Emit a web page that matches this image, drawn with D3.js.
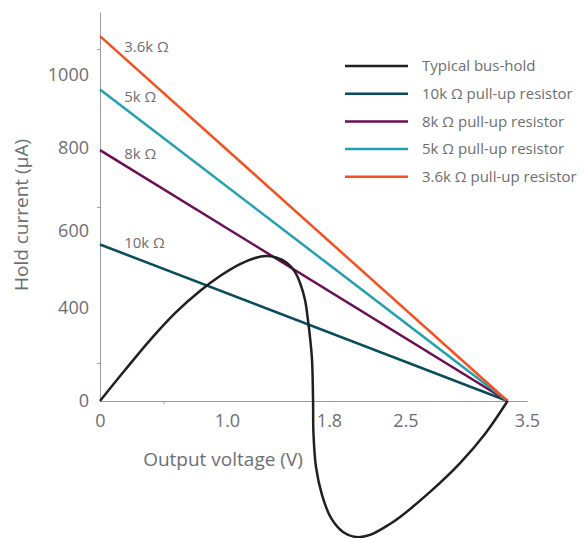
<!DOCTYPE html>
<html>
<head>
<meta charset="utf-8">
<script src="https://cdn.jsdelivr.net/npm/d3@7"></script>
<style>
  body { margin: 0; background: #fff; }
  text { font-family: "Open Sans", "Noto Sans", sans-serif; fill: #6d6e71; }
</style>
</head>
<body>
<svg id="chart" width="585" height="538"></svg>
<script>
// tick labels
const xTicks = [0, 1.0, 1.8, 2.5, 3.5];
const yTicks = [0, 400, 600, 800, 1000];
const xMinor = [0.5];
const yMinor = [163, 658, 1070];

// pull-up resistor lines: current at 0 V, falls to 0 at supply
const resistors = ["10k Ω", "8k Ω", "5k Ω", "3.6k Ω"];
const startCurrent = [565, 795, 960, 1105];
const supplyV = 3.34;

// typical bus-hold curve (V, µA)
const busHoldV = [0, 0.197, 0.394, 0.591, 0.787, 0.945, 1.102, 1.22, 1.306, 1.384, 1.471, 1.533,
  1.573, 1.612, 1.635, 1.651, 1.667, 1.675, 1.678, 1.698, 1.745, 1.818, 1.928, 2.047, 2.175,
  2.358, 2.45, 2.702, 2.949, 3.154, 3.34];
const busHoldI = [0, 133, 262, 378, 444, 483, 514, 530, 535, 531, 517, 494,
  465, 421, 348, 275, 176, 0, -138, -284, -404, -503, -563, -585, -576,
  -529, -499, -391, -267, -142, 0];

const legendNames = ["Typical bus-hold", "10k Ω pull-up resistor", "8k Ω pull-up resistor",
  "5k Ω pull-up resistor", "3.6k Ω pull-up resistor"];
const colors = ["#231f20", "#0b4b5e", "#6b0f55", "#22a0af", "#f4511f"];

const svg = d3.select("#chart");

// hand-drawn axes: labels sit at uneven spacing, so scales are piecewise
const x = d3.scaleLinear()
  .domain([0, 1.0, 1.8, 2.5, 3.5])
  .range([100, 227, 329, 405.5, 527]);

const y = d3.scaleLinear()
  .domain([0, 400, 600, 800, 1000, 1170])
  .range([401, 308, 231, 148, 75, 12]);

// x axis
const gx = svg.append("g")
  .attr("transform", `translate(0,${y(0)})`)
  .call(d3.axisBottom(x).tickValues(xTicks).tickSize(0).tickPadding(13)
    .tickFormat(d => d === 0 ? "0" : d3.format(".1f")(d)));
gx.selectAll("text").style("font-size", "18px").attr("fill", "#6d6e71");
gx.select(".domain").attr("stroke", "#9a9a9a");

svg.append("g")
  .attr("transform", `translate(0,${y(0)})`)
  .call(d3.axisBottom(x).tickValues(xMinor).tickSize(3).tickFormat(""))
  .call(g => g.select(".domain").remove())
  .selectAll("line").attr("stroke", "#9a9a9a");

// y axis
const gy = svg.append("g")
  .attr("transform", `translate(${x(0)},0)`)
  .call(d3.axisLeft(y).tickValues(yTicks).tickSize(0).tickPadding(11).tickFormat(d3.format("d")));
gy.selectAll("text").style("font-size", "18px").attr("fill", "#6d6e71");
gy.select(".domain").attr("stroke", "#9a9a9a");

svg.append("g")
  .attr("transform", `translate(${x(0)},0)`)
  .call(d3.axisLeft(y).tickValues(yMinor).tickSize(3).tickFormat(""))
  .call(g => g.select(".domain").remove())
  .selectAll("line").attr("stroke", "#9a9a9a");

// axis titles
svg.append("text")
  .attr("x", 223).attr("y", 459)
  .attr("dy", "0.35em")
  .attr("text-anchor", "middle")
  .style("font-size", "19px")
  .text("Output voltage (V)");

svg.append("text")
  .attr("transform", `translate(21,215) rotate(-90)`)
  .attr("dy", "0.35em")
  .attr("text-anchor", "middle")
  .style("font-size", "19px")
  .text("Hold current (μA)");

// resistor load lines
resistors.forEach((r, i) => {
  const pts = [[0, startCurrent[i]], [supplyV, 0]];
  svg.append("path")
    .datum(pts)
    .attr("fill", "none")
    .attr("stroke", colors[i + 1])
    .attr("stroke-width", 2.5)
    .attr("d", d3.line().x(d => x(d[0])).y(d => y(d[1])));

  // label just above the line near its start
  const lx = x(0.19);
  const t = (lx - x(0)) / (x(supplyV) - x(0));
  const ly = y(startCurrent[i]) + (y(0) - y(startCurrent[i])) * t - 11;
  svg.append("text")
    .attr("x", lx).attr("y", ly)
    .attr("dy", "0.35em")
    .style("font-size", "15px")
    .text(r);
});

// bus-hold curve
const busHold = busHoldV.map((v, i) => [v, busHoldI[i]]);
svg.append("path")
  .datum(busHold)
  .attr("fill", "none")
  .attr("stroke", colors[0])
  .attr("stroke-width", 2.5)
  .attr("d", d3.line().x(d => x(d[0])).y(d => y(d[1])).curve(d3.curveCatmullRom.alpha(0.5)));

// legend
const legend = svg.append("g").attr("transform", "translate(345,66)");
legendNames.forEach((name, i) => {
  const row = legend.append("g").attr("transform", `translate(0,${i * 27.7})`);
  row.append("line")
    .attr("x1", 0).attr("x2", 63)
    .attr("stroke", colors[i])
    .attr("stroke-width", 2.5);
  row.append("text")
    .attr("x", 77)
    .attr("dy", "0.35em")
    .style("font-size", "15px")
    .text(name);
});
</script>
</body>
</html>
